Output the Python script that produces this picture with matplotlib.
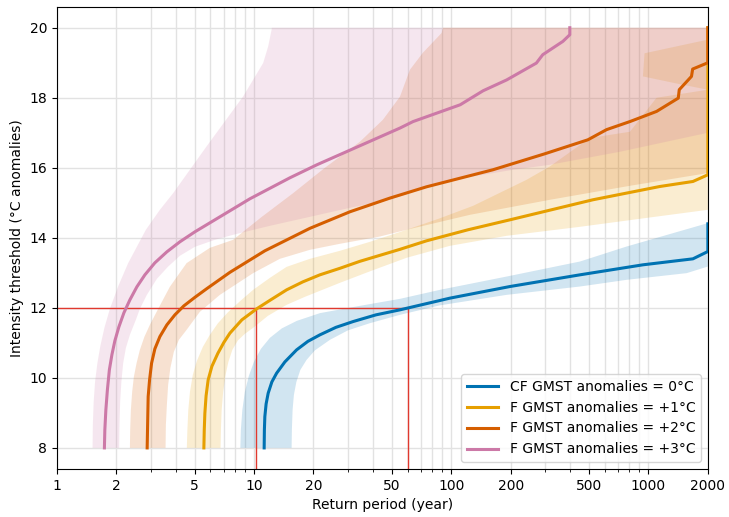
import matplotlib
matplotlib.use('Agg')
import matplotlib.pyplot as plt
import numpy as np

# colours (Okabe-Ito)
c_cf = '#0072B2'
c_p1 = '#E69F00'
c_p2 = '#D55E00'
c_p3 = '#CC79A7'

labels = ['CF GMST anomalies = 0°C', 'F GMST anomalies = +1°C',
          'F GMST anomalies = +2°C', 'F GMST anomalies = +3°C']

# central estimates: return period (year) vs intensity threshold (°C anomalies)
cf_rp = [11.25, 11.28, 11.34, 11.51, 11.79, 12.31, 13.01, 14.33, 16.43, 18.74, 21.57, 25.99, 31.8, 41.5, 54.9,
         98.4, 198.3, 449, 937, 1680, 2000, 2000]
cf_y = [8.0, 8.514, 8.894, 9.257, 9.563, 9.886, 10.134, 10.457, 10.8, 11.043, 11.229, 11.443, 11.609, 11.8, 11.943,
        12.277, 12.609, 12.943, 13.229, 13.4, 13.609, 14.4]

p1_rp = [5.565, 5.59, 5.63, 5.71, 5.85, 6.11, 6.55, 7.03, 7.54, 8.67, 10.3, 12.03, 14.62, 17.68, 21.57, 27.23, 34.4,
         54.9, 74.9, 121.4, 198.3, 522, 1142, 1680, 2000, 2000]
p1_y = [8.0, 8.514, 8.991, 9.486, 9.943, 10.329, 10.7, 11.014, 11.277, 11.657, 11.971, 12.214, 12.514, 12.743, 12.943,
        13.129, 13.329, 13.671, 13.914, 14.229, 14.514, 15.086, 15.466, 15.609, 15.8, 20.0]

p2_rp = [2.87, 2.904, 2.952, 3.022, 3.14, 3.33, 3.613, 3.967, 4.406, 5.01, 5.74, 7.54, 11.34, 19.19, 30.6, 48.8,
         74.9, 162.5, 298, 493, 613, 805, 1099, 1416, 1432, 1652, 1675, 2000, 2000]
p2_y = [8.0, 9.466, 9.943, 10.42, 10.829, 11.18, 11.514, 11.8, 12.057, 12.3, 12.543, 13.014, 13.629, 14.271, 14.743,
        15.134, 15.457, 15.943, 16.4, 16.8, 17.09, 17.32, 17.61, 17.99, 18.23, 18.61, 18.82, 19.0, 20.0]

p3_rp = [1.742, 1.751, 1.772, 1.804, 1.846, 1.901, 1.968, 2.063, 2.187, 2.346, 2.545, 2.795, 3.14, 3.613, 4.205,
         5.01, 6.33, 9.52, 15.19, 20.82, 34.4, 54.9, 64, 111, 145, 191, 270, 291, 368, 399, 399]
p3_y = [8.0, 8.514, 9.086, 9.657, 10.229, 10.657, 11.057, 11.457, 11.857, 12.229, 12.6, 12.943, 13.286, 13.6, 13.886,
        14.171, 14.514, 15.114, 15.714, 16.086, 16.629, 17.134, 17.32, 17.8, 18.2, 18.51, 18.99, 19.23, 19.61, 19.8, 20.0]

# uncertainty bands: short return-period edge (going up) then long return-period edge (going down)
cf_lo_rp = [8.52, 8.57, 8.72, 8.98, 9.41, 9.98, 10.83, 12.03, 13.83, 16.48, 21.57, 34.4, 54.9, 87.5, 190.8, 449,
            774, 2000]
cf_lo_y = [8.0, 8.514, 9.086, 9.6, 10.057, 10.457, 10.829, 11.143, 11.414, 11.629, 11.849, 12.057, 12.257, 12.514,
           12.894, 13.323, 13.751, 14.42]
cf_hi_rp = [2000, 1561, 774, 449, 190.8, 87.5, 54.9, 38.7, 29.9, 24.24, 20.34, 18.46, 17.17, 16.39, 15.92, 15.68,
            15.55, 15.5]
cf_hi_y = [13.18, 12.991, 12.8, 12.609, 12.371, 12.071, 11.8, 11.563, 11.357, 11.086, 10.786, 10.514, 10.229, 9.886,
           9.514, 9.086, 8.514, 8.0]

p1_lo_rp = [4.56, 4.59, 4.64, 4.73, 4.89, 5.13, 5.5, 5.97, 6.55, 7.36, 8.47, 9.89, 12.03, 14.62, 19.19, 27.23, 38.7,
            59.3, 87.5, 129.1, 240.9, 316, 504, 805, 1099, 2000, 1409, 937, 955, 2000]
p1_lo_y = [8.0, 8.514, 9.086, 9.6, 10.086, 10.486, 10.886, 11.229, 11.557, 11.871, 12.186, 12.514, 12.857, 13.171,
           13.4, 13.629, 13.886, 14.229, 14.557, 14.914, 15.657, 16.037, 16.849, 17.029, 18.0, 18.23, 18.4, 18.61,
           19.27, 19.66]
p1_hi_rp = [2000, 904, 449, 190.8, 98.4, 59.3, 38.7, 27.23, 21.57, 18.1, 14.62, 11.75, 9.89, 8.98, 8.28, 7.76, 7.41,
            7.15, 6.97, 6.85, 6.79, 6.76]
p1_hi_y = [14.8, 14.543, 14.314, 14.057, 13.771, 13.429, 13.043, 12.714, 12.486, 12.314, 12.086, 11.771, 11.429,
           11.257, 11.071, 10.8, 10.457, 10.057, 9.6, 9.086, 8.514, 8.0]

p2_lo_rp = [2.346, 2.354, 2.373, 2.409, 2.457, 2.536, 2.636, 2.778, 2.962, 3.264, 3.74, 4.548, 5.97, 7.83, 10.95,
            15.79, 22.86, 34.4, 45.0, 54.9, 61.7, 71.8, 89.3, 90.7, 2000]
p2_lo_y = [8.0, 8.514, 9.086, 9.6, 10.029, 10.42, 10.8, 11.171, 11.514, 11.971, 12.6, 13.277, 13.714, 13.943, 14.6,
           15.277, 16.0, 16.743, 17.371, 18.029, 18.8, 19.286, 19.849, 20.0, 20.0]
p2_hi_rp = [2000, 805, 316, 124.3, 59.3, 43.5, 27.23, 19.19, 13.51, 9.89, 6.71, 5.31, 4.548, 4.156, 3.92, 3.764,
            3.667, 3.613, 3.571, 3.558]
p2_hi_y = [15.849, 15.486, 15.086, 14.657, 14.229, 14.037, 13.829, 13.657, 13.4, 12.991, 12.371, 11.886, 11.371,
           11.086, 10.743, 10.286, 9.8, 9.229, 8.657, 8.0]

p3_lo_rp = [1.517, 1.522, 1.537, 1.562, 1.605, 1.662, 1.742, 1.857, 2.051, 2.299, 2.827, 3.33, 3.89, 5.74, 8.8,
            11.12, 11.79, 12.27, 12.31, 2000]
p3_lo_y = [8.0, 8.657, 9.314, 9.886, 10.42, 10.914, 11.429, 11.971, 12.629, 13.277, 14.229, 14.8, 15.277, 16.609,
           18.037, 18.991, 19.466, 19.943, 20.0, 20.0]
p3_hi_rp = [2000, 716, 316, 205.3, 94.7, 48.8, 30.6, 19.19, 12.03, 7.83, 6.33, 5.01, 4.205, 3.655, 3.215, 2.86,
            2.636, 2.515, 2.346, 2.239, 2.169, 2.124, 2.094, 2.077, 2.07]
p3_hi_y = [17.0, 16.457, 16.086, 15.943, 15.629, 15.086, 14.857, 14.6, 14.343, 14.086, 13.943, 13.743, 13.486,
           13.171, 12.829, 12.371, 11.971, 11.657, 11.229, 10.857, 10.42, 9.886, 9.314, 8.657, 8.0]

# example event: threshold 12 °C, return periods in the +1 °C and counterfactual worlds
event_y = 12.0
event_rp_f = 10.2
event_rp_cf = 60

fig, ax = plt.subplots(figsize=(7.29, 5.17), dpi=100)
fig.subplots_adjust(left=0.078, right=0.971, top=0.987, bottom=0.093)

series = [
    (cf_rp, cf_y, cf_lo_rp, cf_lo_y, cf_hi_rp, cf_hi_y, c_cf),
    (p1_rp, p1_y, p1_lo_rp, p1_lo_y, p1_hi_rp, p1_hi_y, c_p1),
    (p2_rp, p2_y, p2_lo_rp, p2_lo_y, p2_hi_rp, p2_hi_y, c_p2),
    (p3_rp, p3_y, p3_lo_rp, p3_lo_y, p3_hi_rp, p3_hi_y, c_p3),
]

for rp, y, lo_rp, lo_y, hi_rp, hi_y, col in series:
    ax.fill(np.concatenate([lo_rp, hi_rp]), np.concatenate([lo_y, hi_y]),
            color=col, alpha=0.18, lw=0)

for (rp, y, lo_rp, lo_y, hi_rp, hi_y, col), lab in zip(series, labels):
    ax.plot(rp, y, color=col, lw=2.2, label=lab, zorder=3)

ax.set_xscale('log')
ax.set_xlim(1, 2000)
ax.set_ylim(7.4, 20.6)

red = '#e0392f'
ax.plot([1, event_rp_cf], [event_y, event_y], color=red, lw=1, zorder=2.5)
ax.vlines([event_rp_f, event_rp_cf], 7.4, event_y, color=red, lw=1, zorder=2.5)

xt = [1, 2, 5, 10, 20, 50, 100, 200, 500, 1000, 2000]
ax.set_xticks(xt, [str(t) for t in xt])
minor = [m * 10 ** d for d in range(4) for m in (3, 4, 6, 7, 8, 9) if m * 10 ** d < 2000]
ax.set_xticks(minor, minor=True)
ax.set_yticks([8, 10, 12, 14, 16, 18, 20])

ax.set_axisbelow(True)
ax.grid(True, which='both', color='#e2e2e2', lw=1)

ax.set_xlabel('Return period (year)')
ax.set_ylabel('Intensity threshold (°C anomalies)')
ax.legend(loc='lower right', fontsize=10, handlelength=2.3)

plt.savefig('out.png', dpi=100)
